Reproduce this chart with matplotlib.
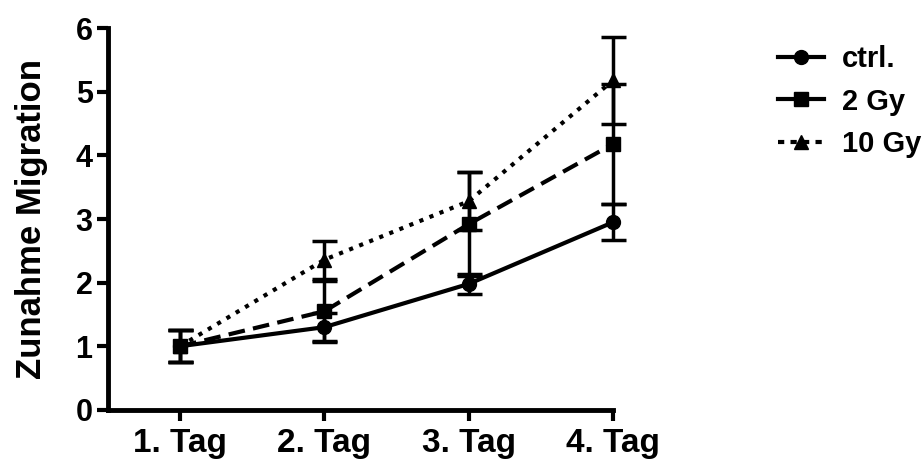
import matplotlib.pyplot as plt
from matplotlib.lines import Line2D

plt.rcParams['font.family'] = ['Liberation Sans', 'DejaVu Sans']
plt.rcParams['font.weight'] = 'bold'

days = ['1. Tag', '2. Tag', '3. Tag', '4. Tag']
x = [1, 2, 3, 4]

ctrl = [1.0, 1.30, 1.98, 2.95]
ctrl_err = [0.25, 0.22, 0.16, 0.28]
gy2 = [1.0, 1.55, 2.92, 4.18]
gy2_err = [0.25, 0.48, 0.82, 0.95]
gy10 = [1.0, 2.36, 3.28, 5.18]
gy10_err = [0.25, 0.30, 0.46, 0.68]

fig = plt.figure(figsize=(9.22, 4.70), dpi=100)
ax = fig.add_axes([0.117, 0.128, 0.548, 0.812])

series = [
    (ctrl, ctrl_err, 'o', '-', 'ctrl.'),
    (gy2, gy2_err, 's', (0, (4, 2)), '2 Gy'),
    (gy10, gy10_err, '^', (0, (1, 1.6)), '10 Gy'),
]
for vals, err, mk, ls, lab in series:
    ax.errorbar(x, vals, yerr=err, color='black', marker=mk, markersize=10,
                linestyle=ls, linewidth=3, elinewidth=2.5, capsize=9,
                capthick=2.5, clip_on=False)

ax.set_xlim(0.5, 4.0)
ax.set_ylim(0, 6)
ax.set_xticks(x)
ax.set_xticklabels(days)
ax.set_yticks(range(7))
ax.set_ylabel('Zunahme Migration', fontsize=25, fontweight='bold', labelpad=20)
ax.tick_params(width=3, length=8, pad=3)
ax.tick_params(axis='x', labelsize=24, pad=5)
ax.tick_params(axis='y', labelsize=22)
for s in ['top', 'right']:
    ax.spines[s].set_visible(False)
for s in ['left', 'bottom']:
    ax.spines[s].set_linewidth(3.5)

# legend handles without the error bars
handles = [
    Line2D([], [], color='black', marker='o', markersize=10, linewidth=3, linestyle='-'),
    Line2D([], [], color='black', marker='s', markersize=10, linewidth=3, linestyle='-'),
    Line2D([], [], color='black', marker='^', markersize=10, linewidth=3, linestyle=(0, (1.5, 1.5))),
]
fig.legend(handles, [s[4] for s in series], loc='upper left',
           bbox_to_anchor=(0.815, 0.96), frameon=False, fontsize=21,
           handlelength=1.6, labelspacing=0.5, handletextpad=0.6)

fig.savefig('out.png', dpi=100)
